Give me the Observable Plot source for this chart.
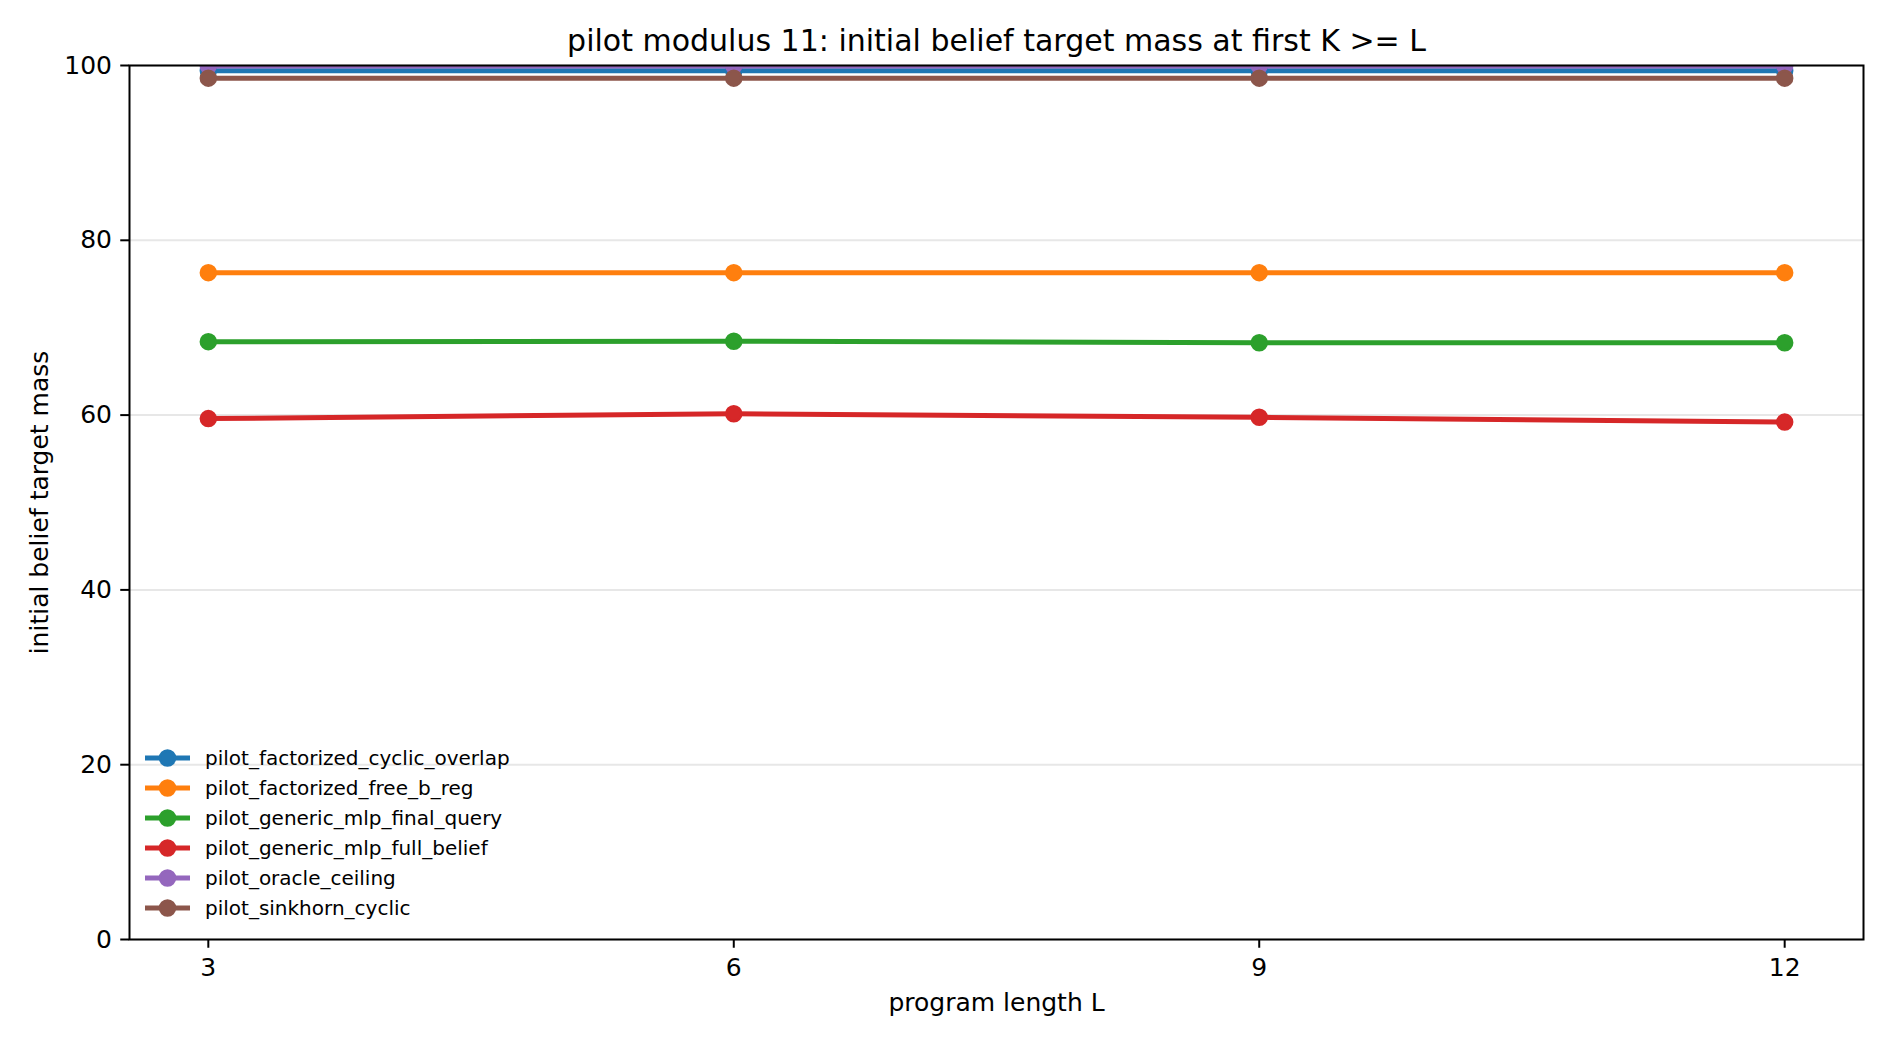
<!DOCTYPE html>
<html><head><meta charset="utf-8">
<script src="https://cdn.jsdelivr.net/npm/d3@7"></script>
<script src="https://cdn.jsdelivr.net/npm/@observablehq/plot@0.6"></script>
<style>
body{margin:0;background:#fff;font-family:"DejaVu Sans",sans-serif;}
#wrap{position:relative;width:1890px;height:1044px;}
#legend{position:absolute;left:145px;top:743px;font-size:20px;color:#000;font-family:"DejaVu Sans",sans-serif;}
.row{display:flex;align-items:center;height:30px;}
.row span{margin-left:14px;line-height:30px;}
</style></head><body><div id="wrap"></div>
<script>
const programLength = [3, 6, 9, 12];
const yTicks = [0, 20, 40, 60, 80, 100];
const seriesNames = [
  "pilot_factorized_cyclic_overlap",
  "pilot_factorized_free_b_reg",
  "pilot_generic_mlp_final_query",
  "pilot_generic_mlp_full_belief",
  "pilot_oracle_ceiling",
  "pilot_sinkhorn_cyclic"
];
const colors = ["#1f77b4", "#ff7f0e", "#2ca02c", "#d62728", "#9467bd", "#8c564b"];
const factorizedCyclicOverlap = [99.4, 99.4, 99.4, 99.4];
const factorizedFreeBReg = [76.3, 76.3, 76.3, 76.3];
const genericMlpFinalQuery = [68.4, 68.45, 68.28, 68.28];
const genericMlpFullBelief = [59.6, 60.15, 59.75, 59.2];
const oracleCeiling = [99.95, 99.95, 99.95, 99.95];
const sinkhornCyclic = [98.55, 98.55, 98.55, 98.55];
const seriesValues = [factorizedCyclicOverlap, factorizedFreeBReg, genericMlpFinalQuery,
  genericMlpFullBelief, oracleCeiling, sinkhornCyclic];
const titleText = "pilot modulus 11: initial belief target mass at first K >= L";
const xLabel = "program length L";
const yLabel = "initial belief target mass";

const seriesMarks = [];
seriesNames.forEach((name, i) => {
  const rows = programLength.map((L, j) => ({L, v: seriesValues[i][j], series: name}));
  seriesMarks.push(Plot.line(rows, {x: "L", y: "v", stroke: colors[i], strokeWidth: 5, clip: "frame"}));
  seriesMarks.push(Plot.dot(rows, {x: "L", y: "v", fill: colors[i], r: 7.5, stroke: colors[i], strokeWidth: 2.5, clip: "frame"}));
});

const chart = Plot.plot({
  width: 1890, height: 1044,
  marginLeft: 129, marginRight: 27, marginTop: 65, marginBottom: 105,
  style: {fontFamily: "DejaVu Sans", fontSize: "25px", background: "white", color: "black"},
  x: {domain: [2.55, 12.45]},
  y: {domain: [0, 100]},
  marks: [
    Plot.ruleY(yTicks, {stroke: "#b0b0b0", strokeOpacity: 0.3, strokeWidth: 2}),
    ...seriesMarks,
    Plot.frame({stroke: "black", strokeWidth: 2}),
    Plot.axisX(programLength, {tickSize: 8.75, tickPadding: 9.75, strokeWidth: 2, fontSize: 25, label: null, tickFormat: d => String(d)}),
    Plot.axisY(yTicks, {tickSize: 8.75, tickPadding: 8.75, strokeWidth: 2, fontSize: 25, label: null, tickFormat: d => String(d)}),
    Plot.text([titleText], {text: d => d, frameAnchor: "top", dy: -24, fontSize: 30, lineAnchor: "middle"}),
    Plot.text([xLabel], {text: d => d, frameAnchor: "bottom", dy: 63, fontSize: 25, lineAnchor: "middle"}),
    Plot.text([yLabel], {text: d => d, frameAnchor: "left", dx: -90, rotate: -90, fontSize: 25, lineAnchor: "middle", textAnchor: "middle"})
  ]
});
const wrap = document.getElementById("wrap");
wrap.appendChild(chart);

const legend = d3.select(wrap).append("div").attr("id", "legend");
seriesNames.forEach((name, i) => {
  const row = legend.append("div").attr("class", "row");
  const svg = row.append("svg").attr("width", 46).attr("height", 30);
  svg.append("line").attr("x1", 0).attr("x2", 45).attr("y1", 15).attr("y2", 15)
    .attr("stroke", colors[i]).attr("stroke-width", 5);
  svg.append("circle").attr("cx", 22.5).attr("cy", 15).attr("r", 7.5).attr("fill", colors[i])
    .attr("stroke", colors[i]).attr("stroke-width", 2.5);
  row.append("span").text(name);
});
</script></body></html>
